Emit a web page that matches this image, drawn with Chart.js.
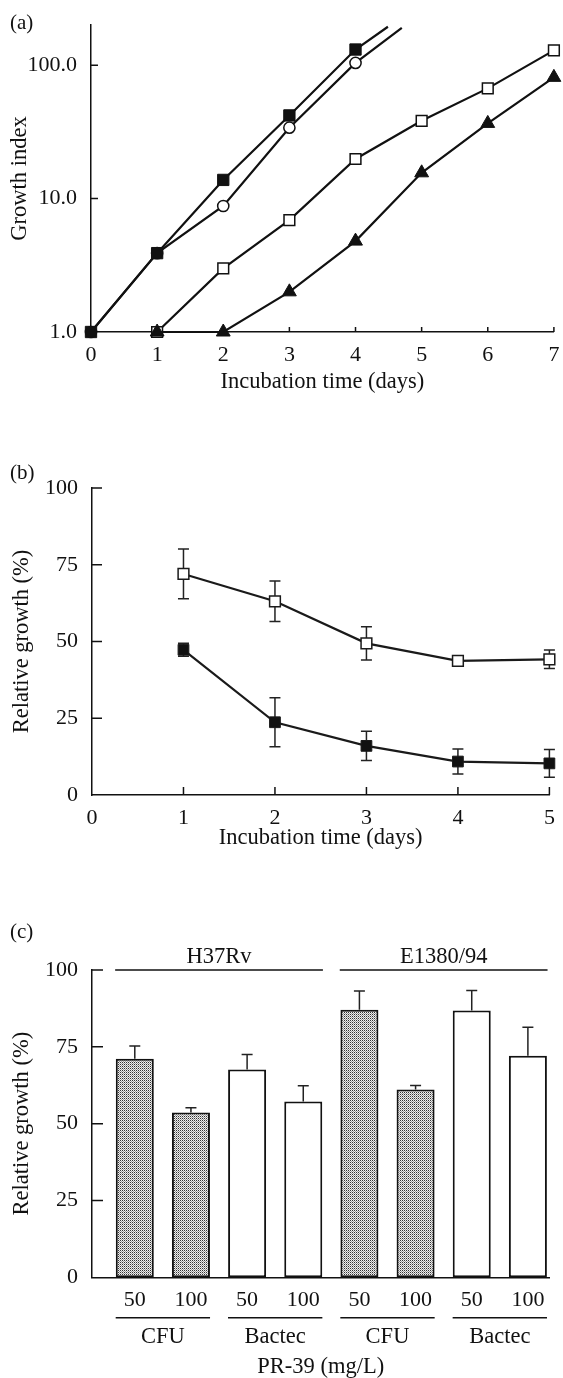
<!DOCTYPE html>
<html>
<head>
<meta charset="utf-8">
<title>PR-39 growth</title>
<script src="https://cdn.jsdelivr.net/npm/chart.js@4.4.1/dist/chart.umd.min.js"></script>
<style>
  body { margin: 0; background: #fff; overflow: hidden; }
  canvas { position: absolute; left: 0; }
</style>
</head>
<body>
<canvas id="chartA" width="563" height="400" style="top:0"></canvas>
<canvas id="chartB" width="563" height="420" style="top:440px"></canvas>
<canvas id="chartC" width="563" height="498" style="top:880px"></canvas>
<script>
// (a) growth index, log scale
const daysA = [0, 1, 2, 3, 4, 5, 6, 7];
const sqFilled = [1, 3.9, 13.8, 42, 131];
const circOpen = [1, 3.9, 8.8, 34, 104];
const sqOpen = [null, 1, 3.0, 6.9, 19.8, 38.3, 67, 129];
const triFilled = [null, 1, 1, 2.0, 4.8, 15.6, 36.6, 81];
// where the two fast curves run off the top of the frame
const sqFilledExit = [4.49, 194];
const circOpenExit = [4.70, 190];
const logTicks = [1, 10, 100];

// (b) relative growth vs time
const daysB = [0, 1, 2, 3, 4, 5];
const openMean = [null, 72, 63.1, 49.4, 43.7, 44.2];
const openErr = [null, 8.1, 6.6, 5.4, 1.0, 3.0];
const filledMean = [null, 47.3, 23.7, 16.0, 10.9, 10.3];
const filledErr = [null, 2.1, 8.0, 4.8, 4.1, 4.5];

// (c) relative growth per strain / method / dose
const doses = ['50', '100', '50', '100', '50', '100', '50', '100'];
const barMethod = ['CFU', 'CFU', 'Bactec', 'Bactec', 'CFU', 'CFU', 'Bactec', 'Bactec'];
const barValues = [71.1, 53.6, 67.6, 57.2, 87.1, 61.1, 86.8, 72.1];
const barErr = [4.2, 1.6, 4.9, 5.1, 6.1, 1.3, 6.5, 9.3];
const strains = ['H37Rv', 'E1380/94'];
const pctTicks = [0, 25, 50, 75, 100];

const INK = '#111';
const TICK = 22, TITLE = 22.5;
Chart.defaults.font.family = '"Liberation Serif", "Times New Roman", serif';
Chart.defaults.color = INK;
Chart.defaults.animation = false;
Chart.defaults.plugins.legend.display = false;
Chart.defaults.plugins.tooltip.enabled = false;

const xy = (xs, ys) => xs.map((x, i) => ({ x: x, y: ys[i] })).filter(p => p.y != null);

// small ticks pointing into the plot + the panel letter
const panelDeco = {
  id: 'panelDeco',
  beforeDatasetsDraw(chart, args, opts) {
    const { ctx, chartArea: a, scales: { x, y } } = chart;
    ctx.save();
    ctx.strokeStyle = INK;
    ctx.lineWidth = 1.5;
    ctx.beginPath();
    (opts.xTicks || []).forEach(v => {
      const px = x.getPixelForValue(v);
      ctx.moveTo(px, a.bottom);
      ctx.lineTo(px, a.bottom - opts.xLen);
    });
    (opts.yTicks || []).forEach(v => {
      const py = y.getPixelForValue(v);
      ctx.moveTo(a.left, py);
      ctx.lineTo(a.left + opts.yLen, py);
    });
    ctx.stroke();
    ctx.restore();
  },
  afterDraw(chart, args, opts) {
    const ctx = chart.ctx;
    ctx.save();
    ctx.font = '21px "Liberation Serif", serif';
    ctx.fillStyle = INK;
    ctx.textBaseline = 'middle';
    ctx.fillText(opts.tag, 10, opts.tagY);
    ctx.restore();
  }
};

// error bars read from dataset.errors (drawn under the markers)
const errorBars = {
  id: 'errorBars',
  beforeDatasetsDraw(chart) {
    const { ctx, scales: { y } } = chart;
    ctx.save();
    ctx.strokeStyle = '#222';
    ctx.lineWidth = 1.5;
    chart.data.datasets.forEach((ds, di) => {
      if (!ds.errors) return;
      const meta = chart.getDatasetMeta(di);
      meta.data.forEach((el, i) => {
        const p = ds.data[i];
        const e = ds.errors[i];
        if (e == null) return;
        const top = y.getPixelForValue(p.y + e);
        const bot = ds.upOnly ? y.getPixelForValue(p.y) : y.getPixelForValue(p.y - e);
        const cap = 5.5;
        ctx.beginPath();
        ctx.moveTo(el.x, top); ctx.lineTo(el.x, bot);
        ctx.moveTo(el.x - cap, top); ctx.lineTo(el.x + cap, top);
        if (!ds.upOnly) { ctx.moveTo(el.x - cap, bot); ctx.lineTo(el.x + cap, bot); }
        ctx.stroke();
      });
    });
    ctx.restore();
  }
};

function axisStyle(extra) {
  return Object.assign({
    grid: { display: false },
    border: { color: INK, width: 1.5 }
  }, extra);
}

// ---------- (a) ----------
new Chart(document.getElementById('chartA'), {
  type: 'line',
  data: {
    datasets: [
      {
        data: xy(daysA.slice(0, 5).concat(sqFilledExit[0]), sqFilled.concat(sqFilledExit[1])),
        pointStyle: 'rect', pointRadius: c => c.dataIndex === 5 ? 0 : 8,
        backgroundColor: INK, borderColor: INK, borderWidth: 2.2, pointBorderWidth: 1
      },
      {
        data: xy(daysA.slice(0, 5).concat(circOpenExit[0]), circOpen.concat(circOpenExit[1])),
        pointStyle: 'circle', pointRadius: c => c.dataIndex === 5 ? 0 : 5.6,
        backgroundColor: '#fff', borderColor: INK, borderWidth: 2.2, pointBorderWidth: 1.5
      },
      {
        data: xy(daysA, triFilled),
        pointStyle: 'triangle', pointRadius: 8,
        backgroundColor: INK, borderColor: INK, borderWidth: 2.2, pointBorderWidth: 1
      },
      {
        data: xy(daysA, sqOpen),
        pointStyle: 'rect', pointRadius: 7.6,
        backgroundColor: '#fff', borderColor: INK, borderWidth: 2.2, pointBorderWidth: 1.5
      }
    ]
  },
  options: {
    responsive: false,
    layout: { padding: { top: 25, right: 7, left: 0, bottom: 0 } },
    elements: { line: { tension: 0 } },
    datasets: { line: { clip: false } },
    scales: {
      x: axisStyle({
        type: 'linear', min: 0, max: 7,
        afterBuildTicks: s => { s.ticks = daysA.map(v => ({ value: v })); },
        ticks: { font: { size: TICK }, padding: 2, autoSkip: false, maxRotation: 0 },
        title: { display: true, text: 'Incubation time (days)', font: { size: TITLE }, padding: { top: 0, bottom: 4 } },
        afterFit: s => { s.height = 68; }
      }),
      y: axisStyle({
        type: 'logarithmic', min: 1, max: 200,
        afterBuildTicks: s => { s.ticks = logTicks.map(v => ({ value: v })); },
        ticks: { font: { size: TICK }, padding: 6, autoSkip: false, callback: v => Number(v).toFixed(1) },
        title: { display: true, text: 'Growth index', font: { size: TITLE }, padding: { top: 7, bottom: 0 } },
        afterFit: s => { s.width = 91; }
      })
    },
    plugins: {
      panelDeco: { tag: '(a)', tagY: 23, xTicks: daysA.slice(1), xLen: 5, yTicks: [10, 100], yLen: 7 }
    }
  },
  plugins: [panelDeco]
});

// ---------- (b) ----------
new Chart(document.getElementById('chartB'), {
  type: 'line',
  data: {
    datasets: [
      {
        data: xy(daysB, filledMean), errors: filledErr.filter(v => v != null),
        pointStyle: 'rect', pointRadius: 7.6,
        backgroundColor: INK, borderColor: '#1a1a1a', borderWidth: 2.2, pointBorderWidth: 1
      },
      {
        data: xy(daysB, openMean), errors: openErr.filter(v => v != null),
        pointStyle: 'rect', pointRadius: 7.6,
        backgroundColor: '#fff', borderColor: '#1a1a1a', borderWidth: 2.2, pointBorderWidth: 1.5
      }
    ]
  },
  options: {
    responsive: false,
    layout: { padding: { top: 48, right: 13.6, left: 0, bottom: 0 } },
    elements: { line: { tension: 0 } },
    datasets: { line: { clip: false } },
    scales: {
      x: axisStyle({
        type: 'linear', min: 0, max: 5,
        afterBuildTicks: s => { s.ticks = daysB.map(v => ({ value: v })); },
        ticks: { font: { size: TICK }, padding: 2, autoSkip: false, maxRotation: 0 },
        title: { display: true, text: 'Incubation time (days)', font: { size: TITLE }, padding: { top: 0, bottom: 8.5 } },
        afterFit: s => { s.height = 65; }
      }),
      y: axisStyle({
        type: 'linear', min: 0, max: 100,
        afterBuildTicks: s => { s.ticks = pctTicks.map(v => ({ value: v })); },
        ticks: { font: { size: TICK }, padding: 6, autoSkip: false },
        title: { display: true, text: 'Relative growth (%)', font: { size: TITLE }, padding: { top: 9, bottom: 0 } },
        afterFit: s => { s.width = 92; }
      })
    },
    plugins: {
      panelDeco: { tag: '(b)', tagY: 33, xTicks: daysB.slice(1), xLen: 8, yTicks: pctTicks.slice(1), yLen: 10 }
    }
  },
  plugins: [panelDeco, errorBars]
});

// ---------- (c) ----------
function stipple() {
  const c = document.createElement('canvas');
  c.width = 2; c.height = 2;
  const g = c.getContext('2d');
  g.fillStyle = '#eee'; g.fillRect(0, 0, 2, 2);
  g.fillStyle = '#333'; g.fillRect(0, 0, 1, 1);
  g.fillStyle = '#999'; g.fillRect(1, 1, 1, 1);
  return g.createPattern(c, 'repeat');
}
const dots = stipple();
const barIdx = doses.map((d, i) => i);

// strain headers, method underlines
const groupLabels = {
  id: 'groupLabels',
  afterDraw(chart) {
    const { ctx, chartArea: a, scales: { x, y } } = chart;
    const half = 0.35;
    ctx.save();
    ctx.strokeStyle = INK;
    ctx.fillStyle = INK;
    ctx.lineWidth = 1.5;
    ctx.textAlign = 'center';
    ctx.textBaseline = 'middle';
    ctx.font = TITLE + 'px "Liberation Serif", serif';
    const yTop = y.getPixelForValue(100);
    strains.forEach((s, k) => {
      const x0 = x.getPixelForValue(k * 4 - half), x1 = x.getPixelForValue(k * 4 + 3 + half);
      ctx.beginPath(); ctx.moveTo(x0, yTop); ctx.lineTo(x1, yTop); ctx.stroke();
      ctx.fillText(s, (x0 + x1) / 2, yTop - 13);
    });
    for (let i = 0; i < barMethod.length; i += 2) {
      const x0 = x.getPixelForValue(i - 0.34), x1 = x.getPixelForValue(i + 1 + 0.34);
      const yl = a.bottom + 40.5;
      ctx.beginPath(); ctx.moveTo(x0, yl); ctx.lineTo(x1, yl); ctx.stroke();
      ctx.fillText(barMethod[i], (x0 + x1) / 2, yl + 19);
    }
    ctx.restore();
  }
};

new Chart(document.getElementById('chartC'), {
  type: 'bar',
  data: {
    datasets: [{
      data: xy(barIdx, barValues), errors: barErr, upOnly: true,
      backgroundColor: barMethod.map(m => m === 'CFU' ? dots : '#fff'),
      borderColor: INK, borderWidth: 2, borderSkipped: false,
      categoryPercentage: 1, barPercentage: 0.677
    }]
  },
  options: {
    responsive: false,
    layout: { padding: { top: 90, right: 13.6, left: 0, bottom: 0 } },
    scales: {
      x: axisStyle({
        type: 'linear', min: -0.762, max: 7.383, offset: false,
        afterBuildTicks: s => { s.ticks = barIdx.map(v => ({ value: v })); },
        ticks: { font: { size: TICK }, padding: 2, autoSkip: false, maxRotation: 0, callback: v => doses[v] },
        title: { display: true, text: 'PR-39 (mg/L)', font: { size: TITLE, lineHeight: 1 }, padding: { top: 0, bottom: 0 } },
        afterFit: s => { s.height = 100.7; }
      }),
      y: axisStyle({
        type: 'linear', min: 0, max: 100,
        afterBuildTicks: s => { s.ticks = pctTicks.map(v => ({ value: v })); },
        ticks: { font: { size: TICK }, padding: 6, autoSkip: false },
        title: { display: true, text: 'Relative growth (%)', font: { size: TITLE }, padding: { top: 9, bottom: 0 } },
        afterFit: s => { s.width = 92; }
      })
    },
    plugins: {
      panelDeco: { tag: '(c)', tagY: 52, xTicks: [], xLen: 0, yTicks: pctTicks.slice(1), yLen: 11 }
    }
  },
  plugins: [panelDeco, errorBars, groupLabels]
});
</script>
</body>
</html>
